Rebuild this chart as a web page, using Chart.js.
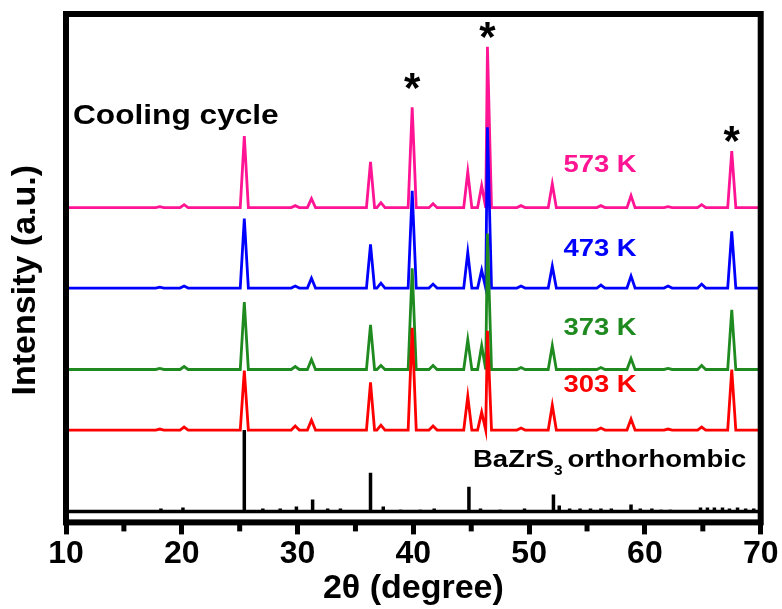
<!DOCTYPE html>
<html>
<head>
<meta charset="utf-8">
<script src="https://cdn.jsdelivr.net/npm/chart.js@4.4.1/dist/chart.umd.min.js"></script>
<style>
  body { margin: 0; background: #fff; }
  #wrap { width: 782px; height: 609px; }
</style>
</head>
<body>
<div id="wrap"><canvas id="xrdChart"></canvas></div>
<script>
// reflection positions (2θ, degree) shared by the four measured patterns
const peakPos = [18.1, 20.2, 25.4, 29.8, 31.2, 36.3, 37.2, 39.9, 41.7, 44.7, 45.9, 46.4, 49.3, 52.0, 56.2, 58.8, 62.0, 64.9, 67.5];

// peak intensities (a.u.) for each temperature
const h303 = [1, 3, 60, 4, 10, 48, 5, 103, 4, 34, 18, 100, 2, 25, 2, 11, 1, 3, 61];
const h373 = [1, 3, 68, 3, 10, 45, 4, 102, 4, 30, 24, 137, 2, 24, 2, 11, 1, 4, 60];
const h473 = [1, 2, 70, 2, 10, 44, 5, 98, 4, 36, 18, 162, 2, 22, 3, 12, 2, 4, 57];
const h573 = [1, 3, 72, 2, 9, 46, 5, 101, 4, 36, 22, 162, 2, 24, 2, 12, 1, 3, 57];

// vertical offsets of the stacked patterns
const offsets = [93, 154, 236, 317];
const tempLabels = ['303 K', '373 K', '473 K', '573 K'];
const colors = ['#ff0000', '#1f8a1f', '#0000ff', '#ff1493'];

// BaZrS3 orthorhombic reference pattern
const stickPos = [18.2, 20.1, 25.4, 27.0, 28.5, 29.9, 31.3, 32.6, 33.7, 36.3, 37.4, 38.9, 40.6, 41.8, 44.8, 45.8, 47.5, 49.6, 52.1, 52.6, 53.5, 54.4, 55.3, 56.2, 57.1, 58.8, 59.6, 60.6, 61.4, 62.2, 64.8, 65.4, 66.0, 66.7, 67.3, 68.0, 68.7, 69.4];
const stickH = [3, 4, 82, 3, 3, 5, 12, 3, 3, 39, 5, 2, 2, 3, 25, 3, 2, 3, 17, 6, 3, 3, 3, 3, 3, 7, 3, 3, 2, 2, 4, 4, 4, 4, 3, 4, 3, 3];
const stickOffset = 11;

// marked reflections [2θ, intensity]
const starPos = [[39.9, 445], [46.4, 496], [67.5, 391]];

const xTicks = [10, 20, 30, 40, 50, 60, 70];
const minorTicks = [15, 25, 35, 45, 55, 65];

const FONT = '"Liberation Sans", Arial, sans-serif';

function pattern(heights, off) {
  const w = 0.35;
  const pts = [{x: 10, y: off}];
  peakPos.forEach((p, i) => {
    if (!heights[i]) return;
    const left = Math.max(p - w, pts[pts.length - 1].x);
    pts.push({x: left, y: off}, {x: p, y: off + heights[i]}, {x: p + w, y: off});
  });
  pts.push({x: 70, y: off});
  return pts;
}

function sticks() {
  const pts = [{x: 10, y: stickOffset}];
  stickPos.forEach((p, i) => {
    pts.push({x: p, y: stickOffset}, {x: p, y: stickOffset + stickH[i]}, {x: p, y: stickOffset});
  });
  pts.push({x: 70, y: stickOffset});
  return pts;
}

const series = [h303, h373, h473, h573];
const datasets = series.map((h, i) => ({
  label: tempLabels[i],
  data: pattern(h, offsets[i]),
  borderColor: colors[i],
  borderWidth: 2.8
}));
datasets.push({
  label: 'BaZrS3',
  data: sticks(),
  borderColor: '#000',
  borderWidth: 3.5
});

// wide bold label text
function label(ctx, text, x, y, size, color, sx, align) {
  ctx.save();
  ctx.font = 'bold ' + size + 'px ' + FONT;
  ctx.fillStyle = color;
  ctx.textAlign = align || 'left';
  ctx.translate(x, y);
  ctx.scale(sx, 1);
  ctx.fillText(text, 0, 0);
  const w = ctx.measureText(text).width * sx;
  ctx.restore();
  return w;
}

const notes = {
  id: 'notes',
  afterDraw(chart) {
    const {ctx, chartArea: a, scales: {x, y}} = chart;
    ctx.save();
    // frame
    ctx.strokeStyle = '#000';
    ctx.lineWidth = 6;
    ctx.strokeRect(a.left, a.top, a.right - a.left, a.bottom - a.top);
    // minor ticks
    ctx.lineWidth = 5;
    minorTicks.forEach(v => {
      const px = x.getPixelForValue(v);
      ctx.beginPath();
      ctx.moveTo(px, a.bottom);
      ctx.lineTo(px, a.bottom + 9);
      ctx.stroke();
    });

    // y axis title
    ctx.save();
    ctx.translate(25.5, (a.top + a.bottom) / 2 + 12);
    ctx.rotate(-Math.PI / 2);
    ctx.font = 'bold 34px ' + FONT;
    ctx.fillStyle = '#000';
    ctx.textAlign = 'center';
    ctx.textBaseline = 'middle';
    ctx.fillText('Intensity (a.u.)', 0, 0);
    ctx.restore();

    ctx.textBaseline = 'alphabetic';
    label(ctx, 'Cooling cycle', 73, 124, 28, '#000', 1.13);

    // temperature labels
    const labelY = [392, 335, 256, 172];
    tempLabels.forEach((t, i) => {
      label(ctx, t, 600, labelY[i], 24.5, colors[i], 1.12, 'center');
    });

    // reference phase label with subscript
    let tx = 473;
    const ty = 467;
    tx += label(ctx, 'BaZrS', tx, ty, 23.5, '#000', 1.17);
    tx += label(ctx, '3', tx, ty + 8, 14, '#000', 1.1) + 5;
    label(ctx, 'orthorhombic', tx, ty, 23.5, '#000', 1.17);

    // asterisks
    ctx.textAlign = 'center';
    ctx.fillStyle = '#000';
    ctx.font = 'bold 42px ' + FONT;
    starPos.forEach(([sx, sy]) => {
      ctx.fillText('*', x.getPixelForValue(sx), y.getPixelForValue(sy) + 21);
    });
    ctx.restore();
  }
};

new Chart(document.getElementById('xrdChart'), {
  type: 'line',
  data: {datasets},
  options: {
    responsive: true,
    maintainAspectRatio: false,
    animation: false,
    parsing: false,
    elements: {point: {radius: 0}, line: {tension: 0}},
    layout: {padding: {top: 14, right: 21, left: 66, bottom: 0}},
    plugins: {legend: {display: false}, tooltip: {enabled: false}},
    scales: {
      x: {
        type: 'linear',
        min: 10,
        max: 70,
        afterBuildTicks: s => { s.ticks = xTicks.map(v => ({value: v})); },
        ticks: {
          autoSkip: false,
          maxRotation: 0,
          padding: 3.5,
          color: '#000',
          font: {family: FONT, size: 32, weight: 'bold', lineHeight: 1}
        },
        grid: {drawOnChartArea: false, tickLength: 12, tickWidth: 5, tickColor: '#000'},
        border: {display: false},
        title: {
          display: true,
          text: '2θ (degree)',
          color: '#000',
          padding: {top: 0, bottom: 5},
          font: {family: FONT, size: 34, weight: 'bold', lineHeight: 0.9}
        }
      },
      y: {
        display: false,
        min: 0,
        max: 512
      }
    }
  },
  plugins: [notes]
});
</script>
</body>
</html>
